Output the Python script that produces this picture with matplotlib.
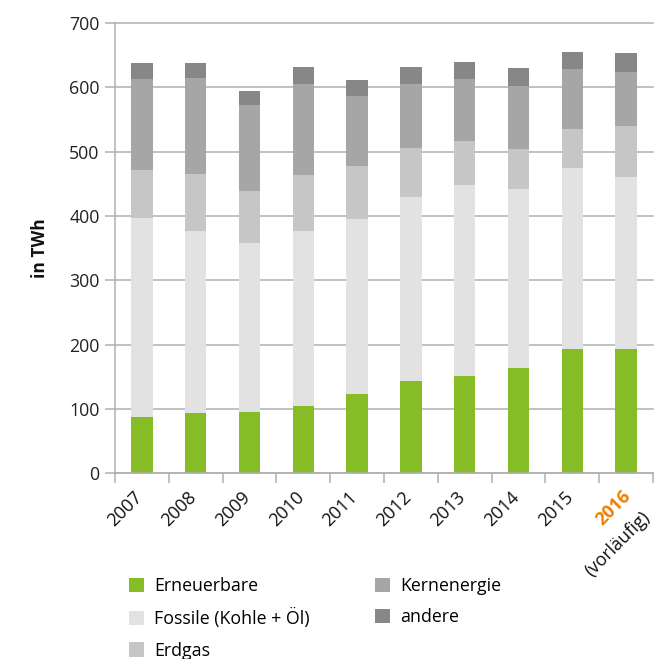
import matplotlib
matplotlib.use("Agg")
import matplotlib.pyplot as plt
from matplotlib.patches import Patch
from matplotlib.transforms import ScaledTranslation
import numpy as np

plt.rcParams['font.family'] = ['Open Sans', 'DejaVu Sans']

# Bruttostromerzeugung in TWh
jahre = ['2007', '2008', '2009', '2010', '2011', '2012', '2013', '2014', '2015', '2016']
erneuerbare = [87, 93, 96, 104, 123, 144, 152, 163, 194, 194]
fossile = [310, 284, 262, 273, 272, 286, 297, 279, 280, 267]
erdgas = [75, 89, 81, 87, 82, 76, 68, 62, 61, 79]
kernenergie = [141, 149, 134, 141, 109, 99, 96, 98, 93, 84]
andere = [25, 23, 22, 27, 25, 27, 27, 28, 27, 29]

namen = ['Erneuerbare', 'Fossile (Kohle + Öl)', 'Erdgas', 'Kernenergie', 'andere']
farben = ['#86bc25', '#e2e2e2', '#c6c6c6', '#a6a6a6', '#878787']
reihen = [erneuerbare, fossile, erdgas, kernenergie, andere]

fig = plt.figure(figsize=(6.55, 6.59), dpi=100)
ax = fig.add_axes([0.1756, 0.2818, 0.8214, 0.6832])

x = np.arange(len(jahre))
unten = np.zeros(len(jahre))
for werte, farbe in zip(reihen, farben):
    ax.bar(x, werte, width=0.4, bottom=unten, color=farbe, linewidth=0, zorder=2)
    unten += np.array(werte)

grau = '#b0b0b0'
ax.set_xlim(-0.5, len(jahre) - 0.5)
ax.set_ylim(0, 700)
ax.set_yticks(range(0, 701, 100))
ax.tick_params(axis='y', length=7, width=1.1, color=grau, labelsize=12.8,
               labelcolor='#222222', pad=4)
ax.yaxis.grid(True, color=grau, linewidth=1.1, zorder=0)
for gl in ax.get_ygridlines():
    gl.set_clip_on(False)
ax.set_axisbelow(True)

for s in ['top', 'right']:
    ax.spines[s].set_visible(False)
for s in ['left', 'bottom']:
    ax.spines[s].set_color(grau)
    ax.spines[s].set_linewidth(1.1)

# Striche zwischen den Kategorien
ax.set_xticks(np.arange(-0.5, len(jahre), 1.0))
ax.set_xticklabels([])
ax.tick_params(axis='x', length=7, width=1.1, color=grau)

# Jahresbeschriftungen, 45 Grad gedreht
for i, jahr in enumerate(jahre):
    if jahr == '2016':
        tr = ax.get_xaxis_transform() + ScaledTranslation(1 / 72, -14.5 / 72, fig.dpi_scale_trans)
        ax.text(i, 0, jahr, transform=tr, rotation=45, rotation_mode='anchor',
                ha='right', va='center', fontsize=13, color='#f07d00', fontweight='bold')
        tr2 = ax.get_xaxis_transform() + ScaledTranslation(15 / 72, -29.5 / 72, fig.dpi_scale_trans)
        ax.text(i, 0, '(vorläufig)', transform=tr2, rotation=45, rotation_mode='anchor',
                ha='right', va='center', fontsize=13, color='#111111')
    else:
        tr = ax.get_xaxis_transform() + ScaledTranslation(-1.5 / 72, -15.5 / 72, fig.dpi_scale_trans)
        ax.text(i, 0, jahr, transform=tr, rotation=45, rotation_mode='anchor',
                ha='right', va='center', fontsize=13, color='#111111')

fig.text(0.061, 0.624, 'in TWh', rotation=90, ha='center', va='center',
         fontsize=12.5, fontweight='bold', color='#111111')

handles = [Patch(facecolor=f, edgecolor='none', label=n) for f, n in zip(farben, namen)]
fig.legend(handles=handles, loc='upper left', bbox_to_anchor=(129 / 655, 1 - 577 / 659),
           ncol=2, frameon=False, fontsize=12.8, handlelength=0.85, handleheight=0.85,
           handletextpad=0.55, columnspacing=3.7, labelspacing=0.75, borderpad=0,
           borderaxespad=0)

plt.savefig('out.png', dpi=100)
